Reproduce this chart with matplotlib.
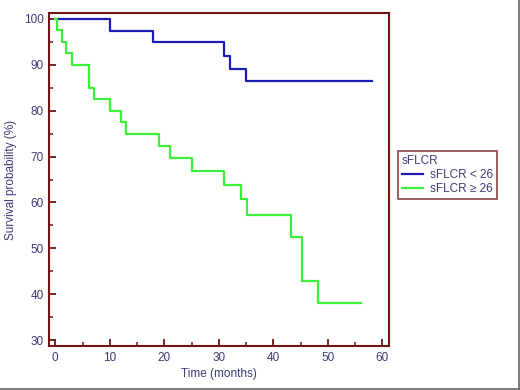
import matplotlib
matplotlib.use("Agg")
import matplotlib.pyplot as plt
from matplotlib.lines import Line2D

plt.rcParams["font.family"] = ["Liberation Sans", "DejaVu Sans"]

# Kaplan-Meier steps
low_times = [0, 10, 18, 31, 32, 35, 58]
low_surv = [100, 97.4, 94.9, 92.0, 89.2, 86.4, 86.4]

high_times = [0, 0.3, 1.3, 2.0, 3.0, 6.1, 7.1, 10, 12, 13, 19, 21, 25,
              31, 34, 35.2, 43.2, 45.2, 48.2, 56]
high_surv = [100, 97.5, 95.0, 92.5, 90.0, 85.0, 82.5, 80.0, 77.5, 75.0, 72.4,
             69.6, 66.8, 63.9, 60.7, 57.3, 52.5, 42.9, 38.1, 38.1]

labels = ["sFLCR < 26", "sFLCR \u2265 26"]
legend_title = "sFLCR"

frame_col = "#701414"
text_col = "#3c3c78"
blue = "#1c1cb4"
green = "#3af03a"

fig = plt.figure(figsize=(5.2, 3.9), dpi=100)
ax = fig.add_axes([49 / 520, 1 - 346 / 390, 340 / 520, 333 / 390])

ax.step(low_times, low_surv, where="post", color=blue, lw=1.6, label=labels[0])
ax.step(high_times, high_surv, where="post", color=green, lw=1.6, label=labels[1])

ax.set_xlim(-1.15, 61.2)
ax.set_ylim(28.7, 101.3)
ax.set_xticks(range(0, 61, 10))
ax.set_xticks(range(5, 61, 10), minor=True)
ax.set_yticks(range(30, 101, 10))
ax.set_yticks(range(35, 101, 10), minor=True)

for side in ["left", "right", "top", "bottom"]:
    ax.spines[side].set_color(frame_col)
    ax.spines[side].set_linewidth(1.5)

ax.tick_params(which="major", direction="in", length=5, width=1.3,
               color=frame_col, labelcolor=text_col, labelsize=8.5, pad=4)
ax.tick_params(which="minor", direction="in", length=3, width=1.1, color=frame_col)

ax.set_xlabel("Time (months)", color=text_col, fontsize=8.5, labelpad=3)
ax.set_ylabel("Survival probability (%)", color=text_col, fontsize=8.5, labelpad=5)

leg = ax.legend(title=legend_title, loc="upper left", bbox_to_anchor=(1.027, 0.585),
                fontsize=8.5, title_fontsize=8.5, frameon=True, fancybox=False,
                handlelength=1.8, handletextpad=0.6, borderpad=0.3,
                labelspacing=0.2, borderaxespad=0)
leg._legend_box.align = "left"
leg.get_frame().set_edgecolor(frame_col)
leg.get_frame().set_linewidth(1.2)
leg.get_title().set_color(text_col)
for t in leg.get_texts():
    t.set_color(text_col)

# grey picture border on right and bottom edges
fig.add_artist(Line2D([0.998, 0.998], [0, 1], transform=fig.transFigure, color="#666666", lw=1.2))
fig.add_artist(Line2D([0, 1], [0.003, 0.003], transform=fig.transFigure, color="#666666", lw=1.2))

fig.savefig("out.png", dpi=100)
